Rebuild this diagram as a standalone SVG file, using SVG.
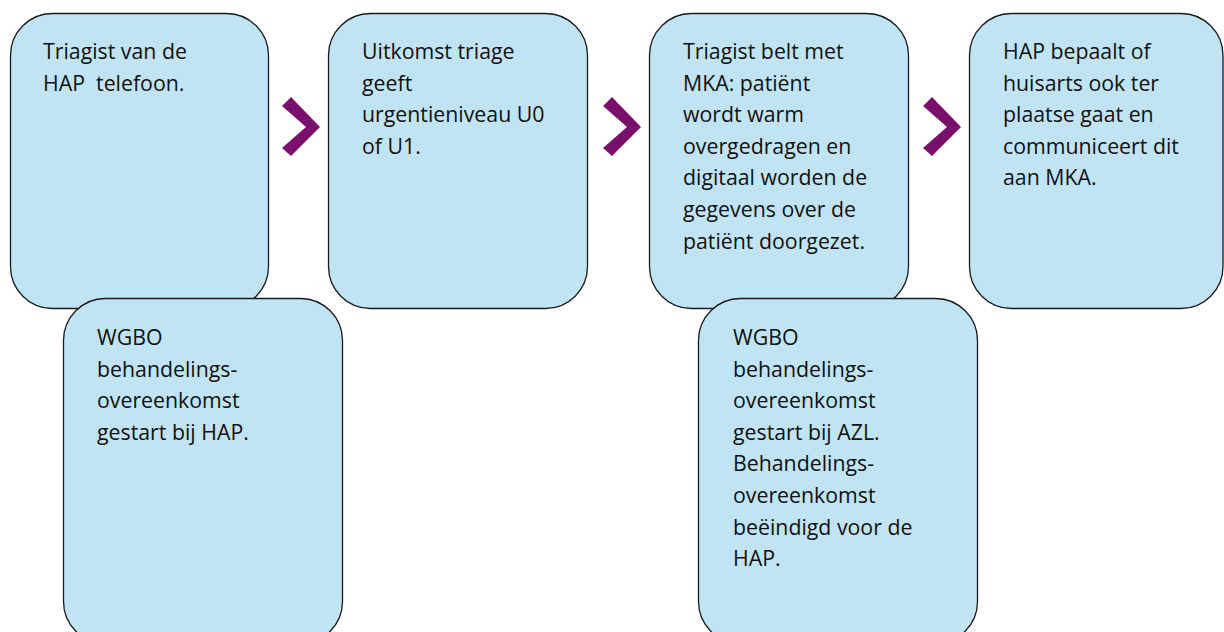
<svg xmlns="http://www.w3.org/2000/svg" width="1224" height="632" viewBox="0 0 1224 632">
  <style>
    .box { fill: #C1E4F5; stroke: #1a1a1a; stroke-width: 1.3; }
    .lbl { font-family: "Open Sans", "Liberation Sans", sans-serif; font-size: 21.3px; fill: #111111; white-space: pre; }
    .chev { fill: #7A0F6E; }
  </style>
  <rect width="1224" height="632" fill="#ffffff"/>

  <g id="connectors">
    <polygon class="chev" points="282,106 291,97 320,127 291,156 282,148 306,127"/>
    <polygon class="chev" points="603,106 612,97 641,127 612,156 603,148 627,127"/>
    <polygon class="chev" points="923,106 932,97 961,127 932,156 923,148 947,127"/>
  </g>

  <g id="node-triagist">
    <rect class="box" x="10.5" y="13.5" width="258" height="295" rx="42" ry="42"/>
    <text class="lbl" x="43" y="59">Triagist van de</text>
    <text class="lbl" x="43" y="90.6" xml:space="preserve">HAP  telefoon.</text>
  </g>

  <g id="node-uitkomst">
    <rect class="box" x="328.5" y="13.5" width="259" height="295" rx="42" ry="42"/>
    <text class="lbl" x="362" y="59">Uitkomst triage</text>
    <text class="lbl" x="362" y="90.6">geeft</text>
    <text class="lbl" x="362" y="122.2">urgentieniveau U0</text>
    <text class="lbl" x="362" y="153.8">of U1.</text>
  </g>

  <g id="node-mka">
    <rect class="box" x="649.5" y="13.5" width="259" height="295" rx="42" ry="42"/>
    <text class="lbl" x="683" y="59">Triagist belt met</text>
    <text class="lbl" x="683" y="90.6">MKA: patiënt</text>
    <text class="lbl" x="683" y="122.2">wordt warm</text>
    <text class="lbl" x="683" y="153.8">overgedragen en</text>
    <text class="lbl" x="683" y="185.4">digitaal worden de</text>
    <text class="lbl" x="683" y="217">gegevens over de</text>
    <text class="lbl" x="683" y="248.6">patiënt doorgezet.</text>
  </g>

  <g id="node-hap">
    <rect class="box" x="969.5" y="13.5" width="253.5" height="295" rx="42" ry="42"/>
    <text class="lbl" x="1003" y="59">HAP bepaalt of</text>
    <text class="lbl" x="1003" y="90.6">huisarts ook ter</text>
    <text class="lbl" x="1003" y="122.2">plaatse gaat en</text>
    <text class="lbl" x="1003" y="153.8">communiceert dit</text>
    <text class="lbl" x="1003" y="185.4">aan MKA.</text>
  </g>

  <g id="node-wgbo-hap">
    <rect class="box" x="63.5" y="298.5" width="279" height="345" rx="42" ry="42"/>
    <text class="lbl" x="97" y="345">WGBO</text>
    <text class="lbl" x="97" y="376.6">behandelings-</text>
    <text class="lbl" x="97" y="408.2">overeenkomst</text>
    <text class="lbl" x="97" y="439.8">gestart bij HAP.</text>
  </g>

  <g id="node-wgbo-azl">
    <rect class="box" x="698.5" y="298.5" width="279" height="345" rx="42" ry="42"/>
    <text class="lbl" x="733" y="345">WGBO</text>
    <text class="lbl" x="733" y="376.6">behandelings-</text>
    <text class="lbl" x="733" y="408.2">overeenkomst</text>
    <text class="lbl" x="733" y="439.8">gestart bij AZL.</text>
    <text class="lbl" x="733" y="471.4">Behandelings-</text>
    <text class="lbl" x="733" y="503">overeenkomst</text>
    <text class="lbl" x="733" y="534.6">beëindigd voor de</text>
    <text class="lbl" x="733" y="566.2">HAP.</text>
  </g>
</svg>
